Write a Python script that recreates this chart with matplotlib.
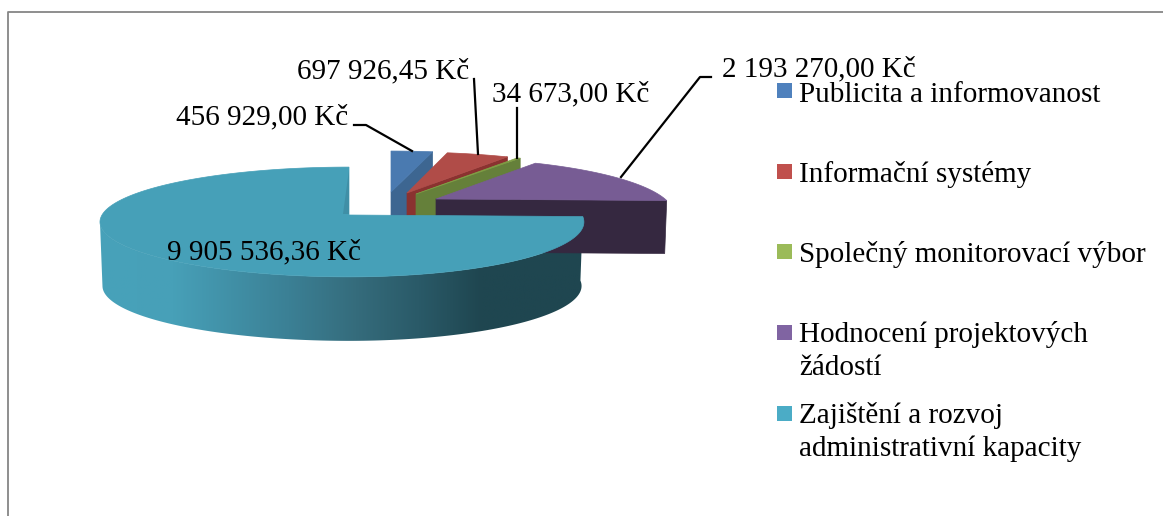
import matplotlib
matplotlib.use("Agg")
import matplotlib.pyplot as plt
import numpy as np
from matplotlib.colors import LinearSegmentedColormap
from matplotlib.patches import Polygon, Rectangle

plt.rcParams['font.family'] = ['Liberation Serif', 'DejaVu Serif']

#===============================================================================
#                                Data
#===============================================================================

categories = ["Publicita a informovanost", "Informační systémy", "Společný monitorovací výbor",
              "Hodnocení projektových\nžádostí", "Zajištění a rozvoj\nadministrativní kapacity"]
values     = [456929.00, 697926.45, 34673.00, 2193270.00, 9905536.36]
labels     = ["456 929,00 Kč", "697 926,45 Kč", "34 673,00 Kč", "2 193 270,00 Kč", "9 905 536,36 Kč"]

legend_col = ["#4f81bd", "#c0504d", "#9bbb59", "#8064a2", "#4bacc6"]
top_col    = ["#4a7ab0", "#b04c48", "#7f9f45", "#775c94", "#46a0b8"]
face_col   = ["#3d6691", "#8a3230", "#65803a", "#352840", "#1f4650"]

# layout, in pixels of the figure
apex_x = [391, 407, 416, 436, 349]
apex_y = [192, 193, 194, 199, 215]
rad    = [245, 238, 240, 229, 233]
persp  = [0.27, 0.27, 0.27, 0.27, 0.127]
squash = [52, 52, 52, 52, 54]
depth  = [53, 53, 53, 53, 64]

label_x  = [176, 297, 492, 722, 167]
label_y  = [117, 71, 94, 69, 252]
legend_y = [90.5, 171.5, 251.5, 332, 413]
text_y   = [95, 175, 255, 351, 432]

#===============================================================================
#                                Geometry
#===============================================================================

edges = np.cumsum([0.0] + values) / sum(values) * 2 * np.pi   # clockwise from 12 o'clock

def project(theta, i):
    X, Y = np.sin(theta), np.cos(theta)
    den = 1 + persp[i] * Y
    r = np.where(X < 0, 247 if i == 4 else rad[i], rad[i])
    return apex_x[i] + X * r / den, apex_y[i] - Y * squash[i] / den

#====================================================
#                     Plot
#====================================================

fig = plt.figure(figsize=(11.63, 5.16), dpi=100)
ax = fig.add_axes([0, 0, 1, 1])
ax.axis("off")

ax.plot([7.5, 7.5, 1163], [516, 11.7, 11.7], color="#868686", linewidth=1.3)

for i in range(4):
    th = np.linspace(edges[i], edges[i+1], 60)
    x, y = project(th, i)
    # cut face on the clockwise side of the slice
    ax.add_patch(Polygon([(apex_x[i], apex_y[i]), (x[-1], y[-1]), (x[-1] - 2 * (i == 3), y[-1] + depth[i]),
                          (apex_x[i], apex_y[i] + depth[i])], fc=face_col[i], ec=face_col[i], lw=0.5))
    ax.add_patch(Polygon(np.column_stack([np.r_[apex_x[i], x], np.r_[apex_y[i], y]]),
                         fc=top_col[i], ec=top_col[i], lw=0.5))

# big slice: rim with a horizontal shading, then the top
shade = LinearSegmentedColormap.from_list("shade", [(0.0, "#47a2ba"), (0.15, "#47a0b8"), (0.39, "#3b8095"),
                                                    (0.53, "#356c7c"), (0.66, "#2a5a68"), (0.79, "#1f4650"),
                                                    (1.0, "#1f4650")])
th = np.linspace(edges[4], edges[5], 400)
x, y = project(th, 4)
n_left = np.argmin(x) + 1
xf, yf = x[:n_left], y[:n_left]
xb = apex_x[4] + (xf - apex_x[4]) * 0.99
rim = Polygon(np.column_stack([np.r_[xf, xb[::-1]], np.r_[yf, yf[::-1] + depth[4]]]), fc="none", ec="none")
ax.add_patch(rim)
img = ax.imshow(np.linspace(0, 1, 256).reshape(1, -1), cmap=shade, extent=[100, 583, 350, 200], aspect="auto")
img.set_clip_path(rim)
ax.add_patch(Polygon(np.column_stack([np.r_[apex_x[4], x], np.r_[apex_y[4], y]]),
                     fc=top_col[4], ec=top_col[4], lw=0.5))
# inside of the cut at 12 o'clock
ax.add_patch(Polygon([(349, 170), (349, 214), (343, 214)], fc="#3f8fa6", ec="none"))

ax.set_xlim(0, 1163)
ax.set_ylim(516, 0)

# leader lines
ax.plot([354, 366, 412], [125, 125, 151], color="black", linewidth=1.6)
ax.plot([474, 478], [79, 154], color="black", linewidth=1.6)
ax.plot([517, 517], [108, 158], color="black", linewidth=1.6)
ax.plot([711, 700, 621], [77, 77, 177], color="black", linewidth=1.6)

for i in range(5):
    ax.text(label_x[i], label_y[i], labels[i], fontsize=21, color="black", ha="left", va="center")

for i in range(5):
    ax.add_patch(Rectangle((777, legend_y[i] - 7.5), 15, 15, fc=legend_col[i], ec="none"))
    ax.text(799, text_y[i], categories[i], fontsize=21, color="black", ha="left", va="center", linespacing=1.35)

plt.savefig("out.png", dpi=100)
plt.close(fig)
